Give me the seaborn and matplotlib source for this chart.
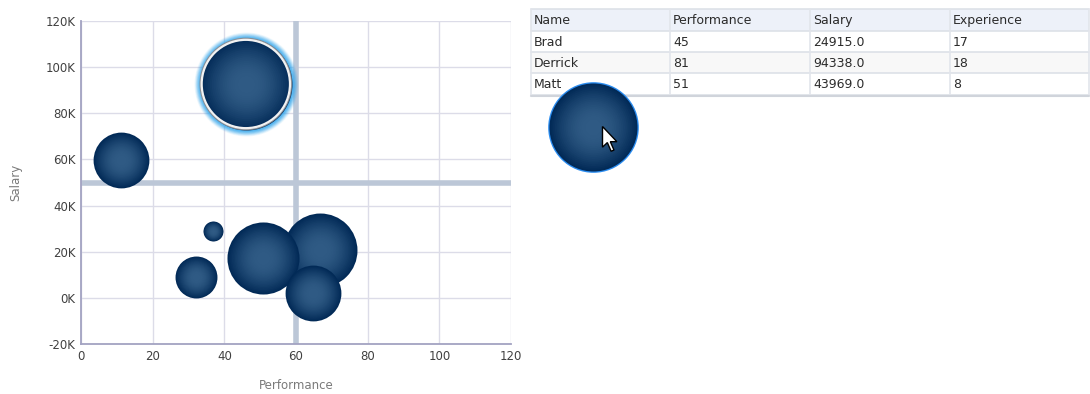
import numpy as np
import pandas as pd
import matplotlib
matplotlib.use("Agg")
import matplotlib.pyplot as plt
import seaborn as sns
from matplotlib.colors import to_rgb
from matplotlib.patches import Rectangle, Polygon

# ---------------- data ----------------
names = ["A", "B", "C", "D", "E", "F", "G"]
performance = [11.2, 36.8, 32.1, 66.7, 50.8, 64.7, 46.0]
salary = [59800, 29000, 9000, 20700, 17300, 2100, 92700]
bubble_value = [7.8, 1.0, 4.4, 13.7, 13.0, 7.8, 21.2]
highlighted = "G"

dragged_perf = [142.9]
dragged_salary = [74100]
dragged_value = [19.4]

x_ticks = [0, 20, 40, 60, 80, 100, 120]
y_ticks = [-20000, 0, 20000, 40000, 60000, 80000, 100000, 120000]
y_tick_labels = ["-20K", "0K", "20K", "40K", "60K", "80K", "100K", "120K"]
x_split = 60
y_split = 50000

table_columns = ["Name", "Performance", "Salary", "Experience"]
table_names = ["Brad", "Derrick", "Matt"]
table_perf = ["45", "81", "51"]
table_salary = ["24915.0", "94338.0", "43969.0"]
table_exp = ["17", "18", "8"]

df = pd.DataFrame({"name": names, "performance": performance,
                   "salary": salary, "value": bubble_value})

# ---------------- figure ----------------
sns.set_theme(style="white")
plt.rcParams["font.family"] = ["DejaVu Sans"]
W, H, DPI = 1090, 394, 100
fig = plt.figure(figsize=(W / DPI, H / DPI), dpi=DPI)

# overlay for table (below the chart axes so the dragged bubble covers it)
ov = fig.add_axes([0, 0, 1, 1], zorder=1)
ov.set_xlim(0, W)
ov.set_ylim(H, 0)
ov.axis("off")
ov.patch.set_alpha(0)

ax = fig.add_axes([81 / W, 50 / H, 430 / W, 323 / H], zorder=5)

# top overlay for the mouse cursor
top = fig.add_axes([0, 0, 1, 1], zorder=10)
top.set_xlim(0, W)
top.set_ylim(H, 0)
top.axis("off")
top.patch.set_alpha(0)

edge_c = np.array(to_rgb("#022a57"))
center_c = np.array(to_rgb("#2f5a84"))
max_r_px = 46.0
zmax = max(bubble_value)


def area_for(value, scale=1.0):
    r_px = max_r_px * np.sqrt(value / zmax) * scale
    r_pt = r_px * 72 / DPI
    return (2 * r_pt) ** 2


def draw_bubble(x, y, value, clip=True):
    n = 22
    for k in range(n):
        f = 1 - 0.85 * k / (n - 1)
        t = np.sin(0.5 * np.pi * k / (n - 1))
        col = edge_c * (1 - t) + center_c * t
        sns.scatterplot(x=[x], y=[y], s=area_for(value, f), color=col,
                        linewidth=0, legend=False, ax=ax, zorder=5,
                        clip_on=clip)


# quadrant lines
ax.axvline(x_split, color="#bcc7d7", lw=4, zorder=2)
ax.axhline(y_split, color="#bcc7d7", lw=4, zorder=2)

for _, row in df.iterrows():
    if row["name"] == highlighted:
        # glow
        for k, g in enumerate(np.linspace(1.13, 1.02, 8)):
            sns.scatterplot(x=[row["performance"]], y=[row["salary"]],
                            s=area_for(row["value"], g), color="#35a8ee",
                            alpha=0.08 + 0.035 * k, linewidth=0, legend=False,
                            ax=ax, zorder=4)
        draw_bubble(row["performance"], row["salary"], row["value"])
        sns.scatterplot(x=[row["performance"]], y=[row["salary"]],
                        s=area_for(row["value"], 0.99), facecolor="none",
                        edgecolor="#8a8f96", linewidth=1.1, legend=False,
                        ax=ax, zorder=6)
        sns.scatterplot(x=[row["performance"]], y=[row["salary"]],
                        s=area_for(row["value"], 0.96), facecolor="none",
                        edgecolor="#f2f2f2", linewidth=1.6, legend=False,
                        ax=ax, zorder=6)
    else:
        draw_bubble(row["performance"], row["salary"], row["value"])

# dragged bubble (outside the axes)
sns.scatterplot(x=dragged_perf, y=dragged_salary,
                s=area_for(dragged_value[0], 1.03), color="#2a8cf0",
                linewidth=0, legend=False, ax=ax, zorder=5, clip_on=False)
draw_bubble(dragged_perf[0], dragged_salary[0], dragged_value[0], clip=False)

ax.set_xlim(0, 120)
ax.set_ylim(-20000, 120000)
ax.set_xticks(x_ticks)
ax.set_yticks(y_ticks)
ax.set_yticklabels(y_tick_labels)
ax.grid(True, color="#dcdce8", lw=1, zorder=0)
ax.set_axisbelow(True)
for s in ["top", "right"]:
    ax.spines[s].set_visible(False)
for s in ["left", "bottom"]:
    ax.spines[s].set_color("#a3a3c2")
    ax.spines[s].set_linewidth(1.3)
ax.tick_params(axis="both", length=0, labelsize=8.5, labelcolor="#404040")
ax.tick_params(axis="x", pad=4)
ax.tick_params(axis="y", pad=4)
ax.set_xlabel("Performance", fontsize=8.5, color="#7a7a7a", labelpad=12)
ax.set_ylabel("Salary", fontsize=8.5, color="#7a7a7a", labelpad=17)

# ---------------- table ----------------
col_x = [531, 670, 810, 950, 1089]
row_y = [9, 31, 52, 73, 95]
rows = [table_columns] + [list(r) for r in zip(table_names, table_perf,
                                                table_salary, table_exp)]
bgs = ["#edf1f9", "#ffffff", "#f8f8f8", "#ffffff"]
for ri, r in enumerate(rows):
    ov.add_patch(Rectangle((col_x[0], row_y[ri]), col_x[-1] - col_x[0],
                           row_y[ri + 1] - row_y[ri], facecolor=bgs[ri],
                           edgecolor="none"))
    for ci, txt in enumerate(r):
        ov.text(col_x[ci] + 3, (row_y[ri] + row_y[ri + 1]) / 2 + 0.5, txt,
                fontsize=9, color="#2b2b2b", va="center", ha="left")
for y in row_y:
    ov.plot([col_x[0], col_x[-1]], [y, y], color="#dde1e8", lw=1.2)
for x in col_x:
    ov.plot([x, x], [row_y[0], row_y[-1]], color="#e2e5eb", lw=1.2)
ov.plot([col_x[0], col_x[-1]], [row_y[-1] + 1, row_y[-1] + 1],
        color="#d0d4db", lw=1.5)

# mouse cursor
tip = np.array([602.5, 126.5])
shape = np.array([[0, 0], [0, 18], [4.2, 14], [7.5, 21.5], [10, 20.5],
                  [6.8, 13.2], [12.5, 13.2]]) * 1.15
top.add_patch(Polygon(tip + shape, closed=True, facecolor="white",
                      edgecolor="black", lw=1.0, zorder=20))

fig.savefig("out.png", dpi=DPI)
